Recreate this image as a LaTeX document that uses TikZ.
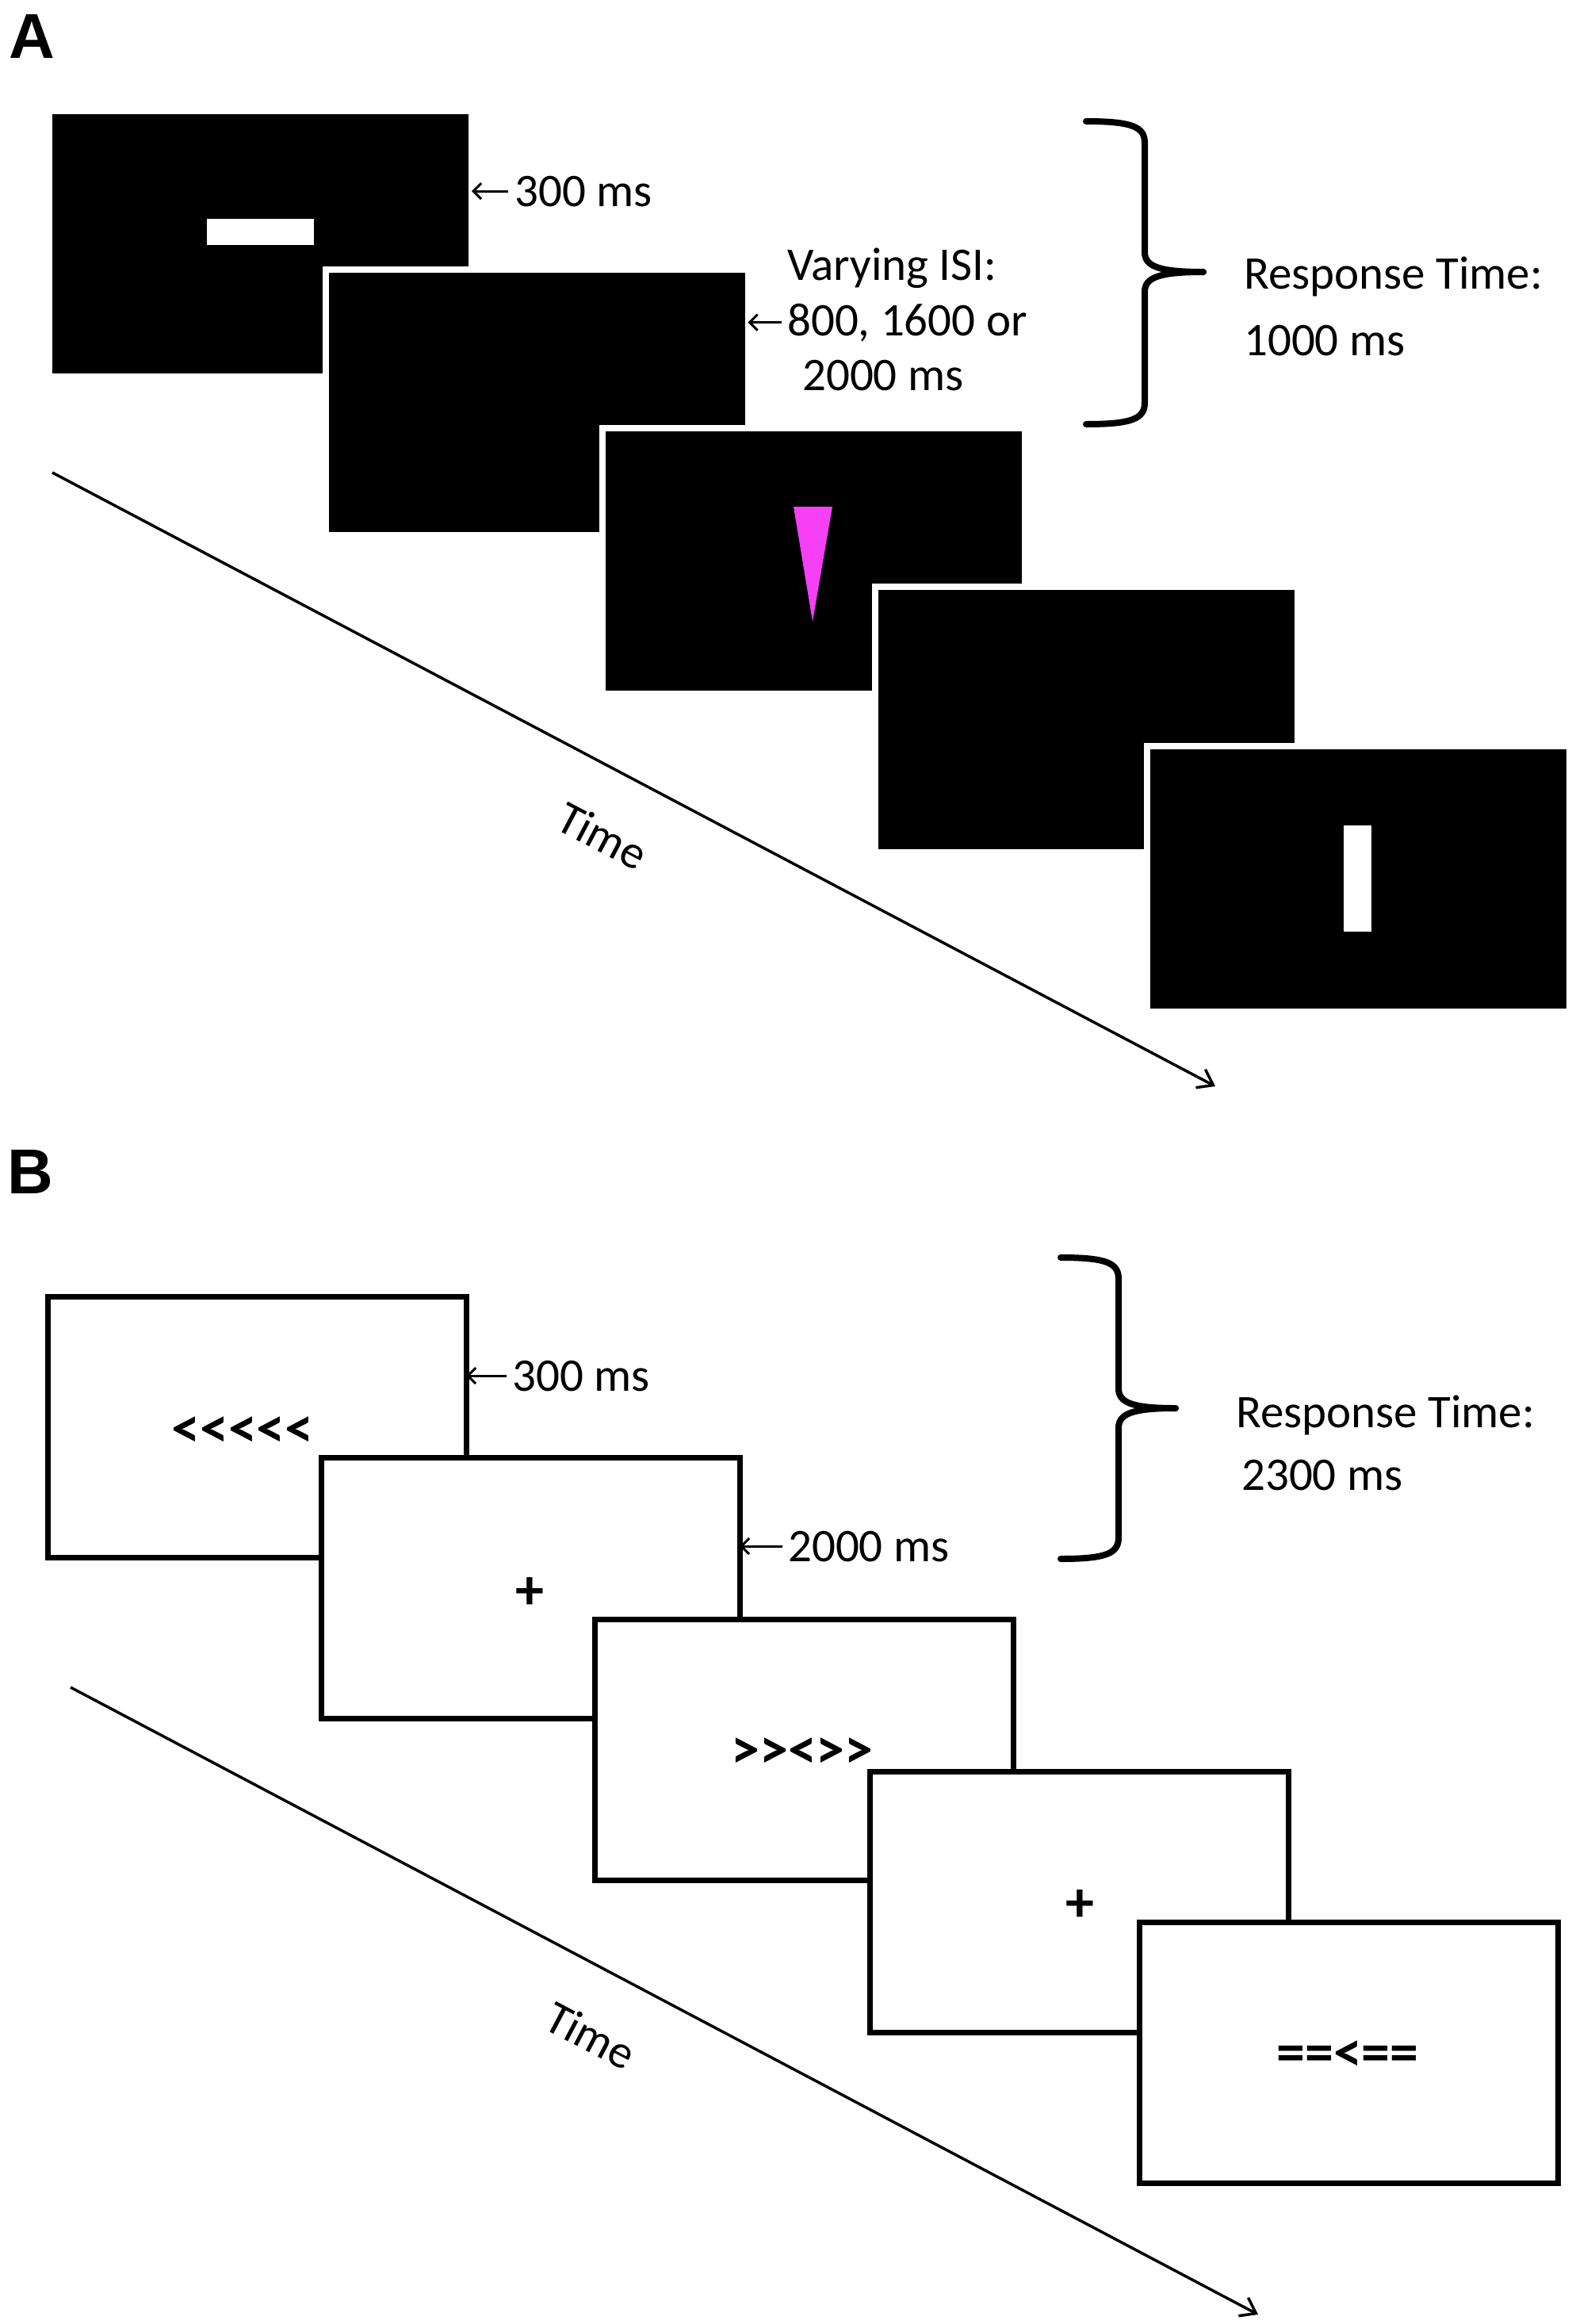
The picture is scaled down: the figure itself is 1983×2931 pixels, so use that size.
\documentclass[tikz,border=0pt]{standalone}
\usepackage{fontspec}
\setmainfont{Carlito}
\newfontfamily\labelfont{Liberation Sans}
\usetikzlibrary{arrows.meta}
\definecolor{cuepink}{RGB}{245,64,245}
\begin{document}
\begin{tikzpicture}[x=1pt,y=-1pt,
  darkscreen/.style={draw=white, fill=black, line width=8pt, minimum width=533pt, minimum height=335pt, inner sep=0pt, outer sep=0pt},
  lightscreen/.style={draw=black, fill=white, line width=7pt, minimum width=528pt, minimum height=329pt, inner sep=0pt, outer sep=0pt},
  lbl/.style={font=\fontsize{59}{71}\selectfont, inner sep=0pt, anchor=base west},
  stim/.style={font=\fontsize{72}{80}\selectfont\bfseries, inner sep=0pt},
  panel/.style={font=\labelfont\bfseries\fontsize{80}{90}\selectfont, inner sep=0pt, anchor=base west},
  timelbl/.style={font=\fontsize{59}{71}\selectfont, inner sep=0pt, rotate=-27.8},
  pointer/.style={line width=3pt, -{Straight Barb[length=10pt,width=20pt]}},
  timeline/.style={line width=3.5pt, -{Straight Barb[length=18pt,width=26pt]}},
  bracestyle/.style={line width=8pt, line cap=round, line join=round},
  ]
\useasboundingbox (0,0) rectangle (1983,2931);

% ---------------- Panel A ----------------
\node[panel] (labA) at (11,73) {A};

\node[darkscreen] (a1) at (328.5,307.5) {};
\fill[white] (261,276) rectangle (396,309);
\node[darkscreen] (a2) at (677,507) {};
\node[darkscreen] (a3) at (1026,707) {};
\fill[cuepink] (1001,639) -- (1050,639) -- (1025,784) -- cycle;
\node[darkscreen] (a4) at (1370,907.5) {};
\node[darkscreen] (a5) at (1713,1108) {};
\fill[white] (1695,1041) rectangle (1730,1175);

\node[lbl] (a300) at (649,260) {300 ms};
\draw[pointer] ([xshift=-8pt]a300.west) -- (a1.east |- a300.west);

\node[lbl] (isi1) at (993,353) {Varying ISI:};
\node[lbl] (isi2) at (993,423) {800, 1600 or};
\node[lbl] (isi3) at (1012,492) {2000 ms};
\draw[pointer] ([xshift=-7pt]isi2.west) -- (a2.east |- isi2.west);

% brace A
\coordinate (bAtop) at (1370,153);
\coordinate (bAtip) at (1518,343);
\coordinate (bAbot) at (1370,535);
\draw[bracestyle] (bAtop) .. controls (1428,153) and (1444,160) .. (1444,180)
  -- (1444,318) .. controls (1444,336) and (1462,343) .. (bAtip);
\draw[bracestyle] (bAtip) .. controls (1462,343) and (1444,350) .. (1444,368)
  -- (1444,508) .. controls (1444,528) and (1428,535) .. (bAbot);

\node[lbl] (rtA1) at (1569,364) {Response Time:};
\node[lbl] (rtA2) at (1569,448) {1000 ms};

\coordinate (tA0) at (66,596);
\coordinate (tA1) at (1533,1370);
\draw[timeline] (tA0) -- (tA1);
\node[timelbl] (timeA) at (760,1054) {Time};

% ---------------- Panel B ----------------
\node[panel] (labB) at (9,1505) {B};

\node[lightscreen] (b1) at (324,1800) {};
\node[stim] (s1) at (306,1806) {\hbox{<}\hbox{<}\hbox{<}\hbox{<}\hbox{<}};
\node[lightscreen] (b2) at (669,2003) {};
\node[stim] (s2) at (668,2010) {+};
\node[lightscreen] (b3) at (1014,2206.5) {};
\node[stim] (s3) at (1012,2211) {\hbox{>}\hbox{>}\hbox{<}\hbox{>}\hbox{>}};
\node[lightscreen] (b4) at (1361.5,2398.5) {};
\node[stim] (s4) at (1362,2404) {+};
\node[lightscreen] (b5) at (1701,2589) {};
\node[stim] (s5) at (1700,2593) {==\hbox{<}==};

\node[lbl] (b300) at (646,1754) {300 ms};
\draw[pointer] ([xshift=-7pt]b300.west) -- (b1.east |- b300.west);
\node[lbl] (b2000) at (994,1969) {2000 ms};
\draw[pointer] ([xshift=-7pt]b2000.west) -- (b2.east |- b2000.west);

% brace B
\coordinate (bBtop) at (1338,1586);
\coordinate (bBtip) at (1483,1776);
\coordinate (bBbot) at (1338,1966);
\draw[bracestyle] (bBtop) .. controls (1396,1586) and (1411,1593) .. (1411,1613)
  -- (1411,1751) .. controls (1411,1769) and (1428,1776) .. (bBtip);
\draw[bracestyle] (bBtip) .. controls (1428,1776) and (1411,1783) .. (1411,1801)
  -- (1411,1939) .. controls (1411,1959) and (1396,1966) .. (bBbot);

\node[lbl] (rtB1) at (1559,1800) {Response Time:};
\node[lbl] (rtB2) at (1566,1879) {2300 ms};

\coordinate (tB0) at (89,2128);
\coordinate (tB1) at (1587,2919);
\draw[timeline] (tB0) -- (tB1);
\node[timelbl] (timeB) at (745,2567) {Time};
\end{tikzpicture}
\end{document}
